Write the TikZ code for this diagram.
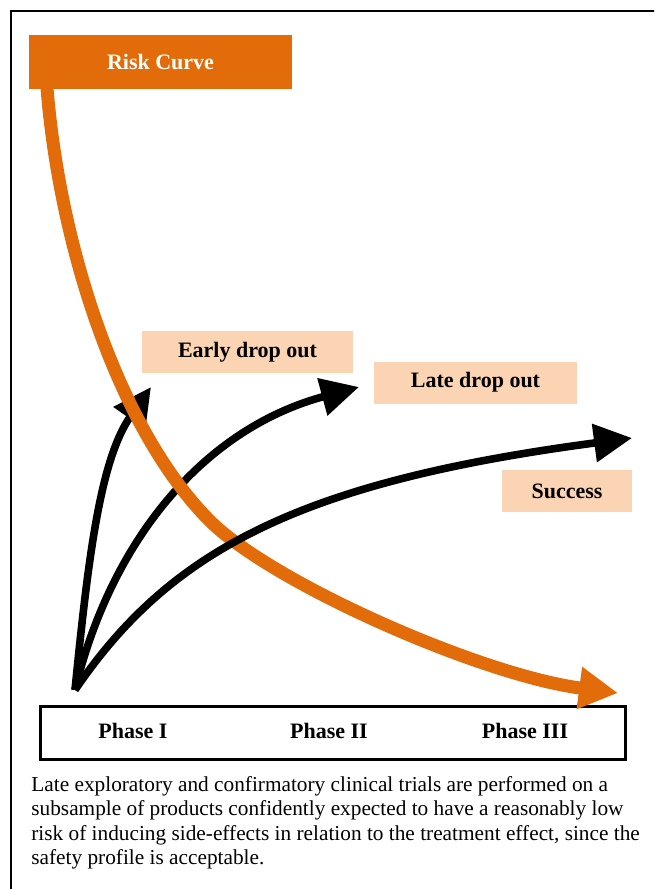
\documentclass[tikz,border=0pt]{standalone}
\usepackage{fontspec}
\setmainfont{Liberation Serif}
\usepackage{tikz}
\usetikzlibrary{arrows.meta}
\definecolor{riskorange}{RGB}{227,108,10}
\definecolor{lightorange}{RGB}{251,212,180}

\begin{document}
\begin{tikzpicture}[x=0.5pt, y=-0.5pt,
    riskbox/.style={fill=riskorange, text=white, font=\fontsize{11}{13}\selectfont\bfseries,
        minimum width=131.5pt, minimum height=27pt, inner sep=0pt},
    labelbox/.style={fill=lightorange, font=\fontsize{11}{13}\selectfont\bfseries,
        minimum height=21pt, inner sep=0pt},
    phase/.style={font=\fontsize{11}{13}\selectfont\bfseries, inner sep=0pt},
    path/.style={line width=3.8pt, -{Triangle[length=19pt, width=18.5pt]}},
    riskline/.style={draw=riskorange, line width=6.5pt, -{Triangle[length=19.5pt, width=20pt]}}]
    \useasboundingbox (0, 0) rectangle (654, 889);
    \clip (0, 0) rectangle (654, 889);
    \draw[line width=1pt] (11, 11) rectangle (680, 910);
    \node[riskbox] (risk) at (160.5, 62) {Risk Curve};
    \node[labelbox, minimum width=105.5pt] (early) at (247.5, 352) {Early drop out};
    \node[labelbox, minimum width=101.5pt] (late) at (475.5, 382.5) {Late drop out};
    \node[labelbox, minimum width=65pt] (success) at (567, 491) {Success};
    \node[draw, line width=1.5pt, minimum width=292.5pt, minimum height=26.5pt] (phases) at (332.5, 732.5) {};
    \node[phase] (p1) at (133, 731) {Phase I};
    \node[phase] (p2) at (329, 731) {Phase II};
    \node[phase] (p3) at (525, 731) {Phase III};
    \node[anchor=north west, inner sep=0pt, align=left, font=\fontsize{10.65}{12.25}\selectfont] (note) at (31, 776)
        {Late exploratory and confirmatory clinical trials are performed on a\\
         subsample of products confidently expected to have a reasonably low\\
         risk of inducing side-effects in relation to the treatment effect, since the\\
         safety profile is acceptable.};
    \coordinate (origin) at (75, 690);
    \coordinate (earlytip) at (151, 387);
    \coordinate (latetip) at (359, 387);
    \coordinate (successtip) at (632, 438);
    \coordinate (riskfoot) at (47, 88);
    \coordinate (riskmid) at (209, 520);
    \coordinate (risktip) at (618, 693);
    \draw[path] (origin) .. controls (88, 560) and (100, 460) .. (earlytip);
    \draw[path] (origin) .. controls (110, 545) and (200, 430) .. (latetip);
    \draw[riskline] (riskfoot) .. controls (60, 250) and (120, 430) .. (riskmid)
        .. controls (270, 582) and (480, 675) .. (risktip);
    \draw[path] (origin) .. controls (170, 550) and (300, 482) .. (successtip);
\end{tikzpicture}
\end{document}
